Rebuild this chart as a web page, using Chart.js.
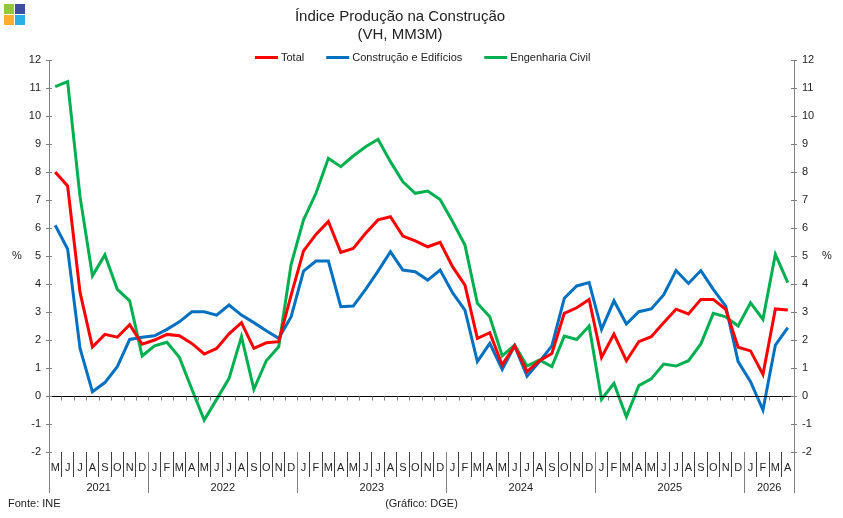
<!DOCTYPE html>
<html>
<head>
<meta charset="utf-8">
<script src="https://cdn.jsdelivr.net/npm/chart.js@4/dist/chart.umd.min.js"></script>
<style>
  html, body { margin: 0; padding: 0; background: #fff; }
  #wrap { width: 843px; height: 518px; }
</style>
</head>
<body>
<div id="wrap"><canvas id="chart" width="843" height="518"></canvas></div>
<script>
// meses de Maio 2021 a Abril 2026
var months = ['M','J','J','A','S','O','N','D',
  'J','F','M','A','M','J','J','A','S','O','N','D',
  'J','F','M','A','M','J','J','A','S','O','N','D',
  'J','F','M','A','M','J','J','A','S','O','N','D',
  'J','F','M','A','M','J','J','A','S','O','N','D',
  'J','F','M','A'];
var yearLabels = ['2021', '2022', '2023', '2024', '2025', '2026'];
var yearMonths = [8, 12, 12, 12, 12, 4];

var total = [8.0, 7.5, 3.7, 1.75, 2.2, 2.1, 2.55, 1.85,
  2.0, 2.2, 2.15, 1.88, 1.5, 1.7, 2.22, 2.62, 1.7, 1.9, 1.94, 3.6,
  5.18, 5.77, 6.23, 5.13, 5.27, 5.81, 6.29, 6.4, 5.71, 5.54, 5.33, 5.49,
  4.62, 3.96, 2.06, 2.26, 1.11, 1.79, 0.87, 1.26, 1.52, 2.95, 3.15, 3.45,
  1.38, 2.21, 1.26, 1.94, 2.12, 2.62, 3.1, 2.93, 3.45, 3.45, 3.1, 1.74,
  1.61, 0.77, 3.11, 3.07];

var edificios = [6.1, 5.25, 1.7, 0.15, 0.48, 1.05, 2.02, 2.1,
  2.15, 2.38, 2.65, 3.01, 3.01, 2.89, 3.25, 2.89, 2.62, 2.33, 2.06, 2.83,
  4.46, 4.82, 4.82, 3.19, 3.21, 3.81, 4.46, 5.15, 4.5, 4.44, 4.14, 4.5,
  3.69, 3.07, 1.23, 1.88, 0.95, 1.79, 0.71, 1.23, 1.79, 3.49, 3.93, 4.05,
  2.38, 3.4, 2.57, 3.01, 3.11, 3.61, 4.48, 4.02, 4.48, 3.81, 3.21, 1.23,
  0.51, -0.5, 1.82, 2.44];

var engenharia = [11.05, 11.23, 7.12, 4.29, 5.04, 3.81, 3.4, 1.43,
  1.79, 1.92, 1.38, 0.25, -0.86, -0.12, 0.63, 2.12, 0.24, 1.26, 1.76, 4.7,
  6.29, 7.24, 8.49, 8.19, 8.57, 8.9, 9.17, 8.37, 7.65, 7.24, 7.32, 7.02,
  6.23, 5.39, 3.31, 2.83, 1.43, 1.82, 1.07, 1.29, 1.05, 2.14, 2.02, 2.5,
  -0.12, 0.45, -0.74, 0.37, 0.61, 1.14, 1.07, 1.26, 1.86, 2.95, 2.83, 2.5,
  3.33, 2.74, 5.06, 4.05];

var FONT = "'Liberation Sans', Arial, sans-serif";

// titulo, legenda, separadores dos anos e notas
var decor = {
    id: 'decor',
    afterDraw: function(chart) {
        var ctx = chart.ctx;
        var a = chart.chartArea;
        var x = chart.scales.x;
        var y = chart.scales.y;
        var n = months.length;
        var step = (x.getPixelForValue(n - 1) - x.getPixelForValue(0)) / (n - 1);
        ctx.save();

        // logotipo
        ctx.fillStyle = '#92c83e'; ctx.fillRect(4, 4, 10, 10);
        ctx.fillStyle = '#3f4fa0'; ctx.fillRect(15, 4, 10, 10);
        ctx.fillStyle = '#fbb02d'; ctx.fillRect(4, 15, 10, 10);
        ctx.fillStyle = '#2aaee6'; ctx.fillRect(15, 15, 10, 10);

        // titulo
        ctx.fillStyle = '#222';
        ctx.textAlign = 'center';
        ctx.textBaseline = 'middle';
        ctx.font = '15px ' + FONT;
        ctx.fillText('Índice Produção na Construção', 400, 17);
        ctx.fillText('(VH, MM3M)', 400, 35);

        // legenda
        ctx.font = '11px ' + FONT;
        ctx.textAlign = 'left';
        var legendX = 255;
        chart.data.datasets.forEach(function(ds) {
            ctx.strokeStyle = ds.borderColor;
            ctx.lineWidth = 3;
            ctx.beginPath();
            ctx.moveTo(legendX, 57.5);
            ctx.lineTo(legendX + 23, 57.5);
            ctx.stroke();
            ctx.fillStyle = '#222';
            ctx.fillText(ds.label, legendX + 26, 57.5);
            legendX += 26 + ctx.measureText(ds.label).width + 22;
        });

        // linha do zero
        var y0 = Math.round(y.getPixelForValue(0)) + 0.5;
        ctx.strokeStyle = '#000';
        ctx.lineWidth = 1;
        ctx.beginPath();
        ctx.moveTo(a.left, y0);
        ctx.lineTo(a.right, y0);
        ctx.stroke();
        ctx.strokeStyle = '#808080';
        ctx.beginPath();
        for (var i = 1; i < n; i++) {
            var bx = Math.round(x.getPixelForValue(i) - step / 2) + 0.5;
            ctx.moveTo(bx, y0);
            ctx.lineTo(bx, y0 + 4);
        }
        ctx.stroke();

        // marcas dos eixos verticais
        ctx.beginPath();
        for (var v = -2; v <= 12; v++) {
            var ty = Math.round(y.getPixelForValue(v)) + 0.5;
            ctx.moveTo(a.left - 3, ty); ctx.lineTo(a.left + 3, ty);
            ctx.moveTo(a.right - 3, ty); ctx.lineTo(a.right + 3, ty);
        }
        // prolongamento dos eixos
        ctx.moveTo(Math.round(a.left) + 0.5, a.bottom);
        ctx.lineTo(Math.round(a.left) + 0.5, a.bottom + 41);
        ctx.moveTo(Math.round(a.right) + 0.5, a.bottom);
        ctx.lineTo(Math.round(a.right) + 0.5, a.bottom + 41);
        // separadores dos anos
        var idx = 0;
        for (var k = 0; k < yearMonths.length - 1; k++) {
            idx += yearMonths[k];
            var sx = Math.round(x.getPixelForValue(idx) - step / 2) + 0.5;
            ctx.moveTo(sx, a.bottom);
            ctx.lineTo(sx, a.bottom + 41);
        }
        ctx.stroke();

        // anos
        ctx.fillStyle = '#222';
        ctx.textAlign = 'center';
        ctx.font = '11px ' + FONT;
        idx = 0;
        yearLabels.forEach(function(lbl, k) {
            var first = x.getPixelForValue(idx);
            var last = x.getPixelForValue(idx + yearMonths[k] - 1);
            ctx.fillText(lbl, (first + last) / 2, a.bottom + 36);
            idx += yearMonths[k];
        });

        // unidades
        ctx.fillText('%', 17, 256);
        ctx.fillText('%', 827, 256);

        // notas
        ctx.textAlign = 'left';
        ctx.fillText('Fonte: INE', 8, 504);
        ctx.textAlign = 'center';
        ctx.fillText('(Gráfico: DGE)', (a.left + a.right) / 2, 504);
        ctx.restore();
    }
};

var ctx = document.getElementById('chart').getContext('2d');
var chart = new Chart(ctx, {
    type: 'line',
    data: {
        labels: months,
        datasets: [{
            label: 'Total',
            data: total,
            borderColor: '#ff0000',
            backgroundColor: '#ff0000',
            borderWidth: 3,
            pointRadius: 0,
            tension: 0,
            yAxisID: 'y'
        }, {
            label: 'Construção e Edifícios',
            data: edificios,
            borderColor: '#0070c0',
            backgroundColor: '#0070c0',
            borderWidth: 3,
            pointRadius: 0,
            tension: 0,
            yAxisID: 'y'
        }, {
            label: 'Engenharia Civil',
            data: engenharia,
            borderColor: '#00b050',
            backgroundColor: '#00b050',
            borderWidth: 3,
            pointRadius: 0,
            tension: 0,
            yAxisID: 'y'
        }]
    },
    options: {
        responsive: false,
        animation: false,
        layout: { padding: { top: 60, left: 0, right: 0, bottom: 0 } },
        scales: {
            x: {
                offset: true,
                border: { display: false },
                grid: {
                    offset: true,
                    drawOnChartArea: false,
                    tickLength: 25,
                    tickColor: '#404040'
                },
                ticks: {
                    autoSkip: false,
                    maxRotation: 0,
                    padding: -16,
                    color: '#222',
                    font: { family: FONT, size: 11 }
                },
                afterFit: function(scale) { scale.height = 66; }
            },
            y: {
                position: 'left',
                min: -2,
                max: 12,
                border: { color: '#808080' },
                grid: { display: false },
                ticks: {
                    stepSize: 1,
                    padding: 0,
                    color: '#222',
                    font: { family: FONT, size: 11 }
                },
                afterFit: function(scale) { scale.width = 49; }
            },
            y2: {
                position: 'right',
                min: -2,
                max: 12,
                border: { color: '#808080' },
                grid: { display: false },
                ticks: {
                    stepSize: 1,
                    padding: 0,
                    color: '#222',
                    font: { family: FONT, size: 11 }
                },
                afterFit: function(scale) { scale.width = 49; }
            }
        },
        plugins: {
            legend: { display: false },
            title: { display: false },
            tooltip: { enabled: false }
        }
    },
    plugins: [decor]
});
</script>
</body>
</html>
